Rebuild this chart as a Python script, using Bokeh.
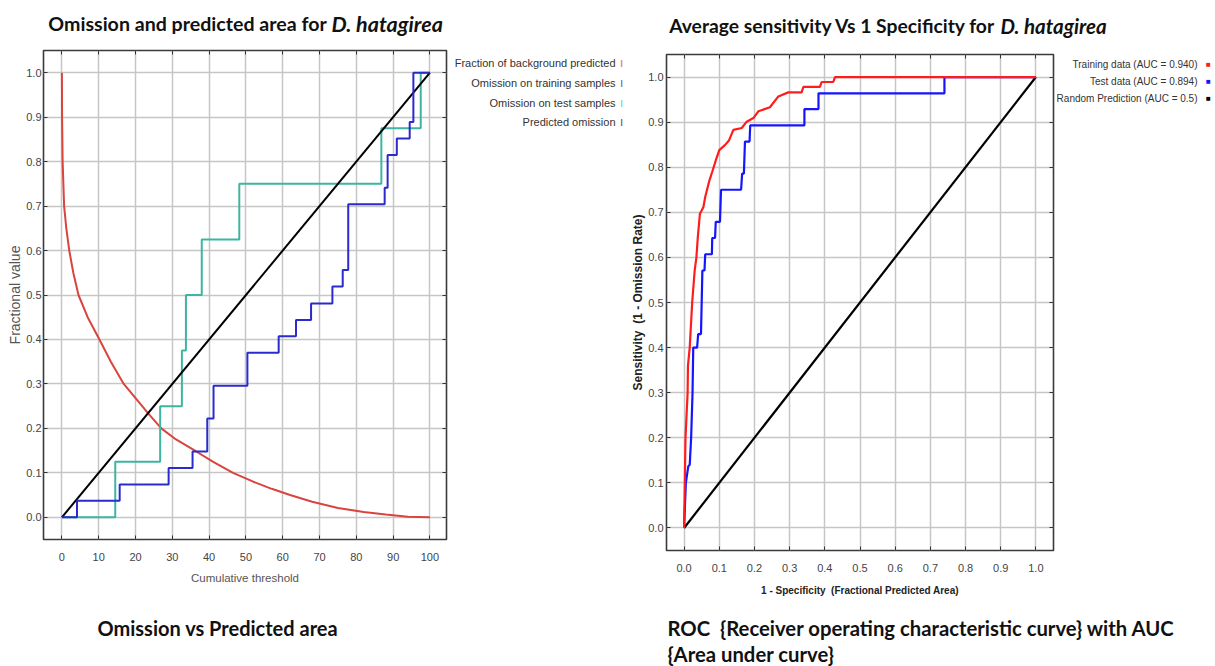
from bokeh.plotting import figure
from bokeh.models import (Label, LinearAxis, SingleIntervalTicker, NumeralTickFormatter,
                          CustomJSTickFormatter, Range1d)
from bokeh.layouts import row, column
from bokeh.embed import file_html
from bokeh.resources import INLINE

# ---------------- data: omission vs predicted area ----------------
bg_x = [0, 0.05, 0.2, 0.6, 1.2, 2.0, 3.1, 4.5, 7.0, 10.2, 13.3, 16.8, 20.8, 23.5,
        27.0, 31.0, 36.5, 41.0, 46.5, 52.0, 57.0, 62.0, 68.0, 75.0, 82.0, 88.0, 94.0, 100.0]
bg_y = [1.0, 0.9, 0.8, 0.7, 0.65, 0.6, 0.55, 0.5, 0.45, 0.4, 0.35, 0.3, 0.26, 0.233,
        0.2, 0.175, 0.148, 0.125, 0.1, 0.08, 0.064, 0.05, 0.035, 0.021, 0.012, 0.006, 0.001, 0.0]

train_om_x = [0, 4.1, 15.7, 29.0, 35.5, 39.5, 41.2, 50.4, 58.9, 63.6, 67.7, 73.5, 76.3, 77.8,
              87.7, 88.5, 91.0, 94.5, 95.5, 100.0]
train_om_y = [0, 0.037, 0.074, 0.111, 0.148, 0.222, 0.296, 0.370, 0.407, 0.444, 0.481, 0.519,
              0.556, 0.704, 0.741, 0.815, 0.852, 0.889, 1.0, 1.0]

test_om_x = [0, 14.5, 26.7, 32.6, 33.7, 38.0, 48.2, 86.8, 97.5, 100.0]
test_om_y = [0, 0.125, 0.25, 0.375, 0.5, 0.625, 0.75, 0.875, 1.0, 1.0]

pred_om_x = [0, 100]
pred_om_y = [0, 1]

left_legend = ["Fraction of background predicted", "Omission on training samples",
               "Omission on test samples", "Predicted omission"]

# ---------------- data: ROC ----------------
roc_train_x = [0, 0.002, 0.004, 0.007, 0.010, 0.011, 0.016, 0.023, 0.030, 0.035, 0.039, 0.045,
               0.055, 0.060, 0.071, 0.080, 0.090, 0.100, 0.116, 0.128, 0.140, 0.164, 0.178,
               0.197, 0.211, 0.244, 0.268, 0.296, 0.334, 0.339, 0.386, 0.391, 0.424, 0.429, 1.0]
roc_train_y = [0, 0.10, 0.20, 0.25, 0.30, 0.36, 0.40, 0.50, 0.57, 0.60, 0.645, 0.697,
               0.712, 0.734, 0.768, 0.790, 0.815, 0.838, 0.849, 0.860, 0.883, 0.887, 0.901,
               0.909, 0.924, 0.933, 0.957, 0.966, 0.966, 0.978, 0.978, 0.989, 0.989, 1.0, 1.0]

roc_test_x = [0, 0.005, 0.012, 0.016, 0.020, 0.022, 0.024, 0.026, 0.037, 0.040, 0.048, 0.050,
              0.052, 0.058, 0.060, 0.079, 0.080, 0.088, 0.090, 0.102, 0.105, 0.162, 0.165,
              0.170, 0.173, 0.186, 0.188, 0.342, 0.342, 0.382, 0.382, 0.740, 0.740, 1.0]
roc_test_y = [0, 0.10, 0.137, 0.140, 0.20, 0.25, 0.30, 0.40, 0.40, 0.43, 0.43, 0.50,
              0.571, 0.571, 0.607, 0.607, 0.643, 0.643, 0.679, 0.679, 0.750, 0.750, 0.786,
              0.786, 0.857, 0.857, 0.893, 0.893, 0.929, 0.929, 0.964, 0.964, 1.0, 1.0]

roc_rand_x = [0, 1]
roc_rand_y = [0, 1]

right_legend = ["Training data (AUC = 0.940)", "Test data (AUC = 0.894)",
                "Random Prediction (AUC = 0.5)"]

SANS = "Liberation Sans"
TITLEF = "Lato"
INK = "#111111"
NB = "\u00a0"


def style(p, x_int, y_int, x_fmt, y_fmt):
    p.outline_line_color = "#3a3a3a"
    p.outline_line_width = 1.6
    xa, ya = p.below[0], p.left[0]
    for ax in (xa, ya):
        ax.axis_line_color = None
        ax.major_tick_in = 4
        ax.major_tick_out = 0
        ax.minor_tick_in = 0
        ax.minor_tick_out = 0
        ax.major_tick_line_color = "#333333"
        ax.major_label_text_font = SANS
        ax.major_label_text_font_size = "11px"
        ax.major_label_text_color = "#444444"
        ax.axis_label_text_font = SANS
    xa.ticker = SingleIntervalTicker(interval=x_int)
    ya.ticker = SingleIntervalTicker(interval=y_int)
    if x_fmt:
        xa.formatter = NumeralTickFormatter(format=x_fmt)
    ya.formatter = NumeralTickFormatter(format=y_fmt)
    xa.major_label_standoff = 13
    ya.major_label_standoff = 3
    ya.axis_label_standoff = 0
    for loc, interval in (("above", x_int), ("right", y_int)):
        ax = LinearAxis(ticker=SingleIntervalTicker(interval=interval),
                        formatter=CustomJSTickFormatter(code="return ''"),
                        axis_line_color=None, major_tick_in=4, major_tick_out=0,
                        minor_tick_in=0, minor_tick_out=0, major_label_standoff=0,
                        major_label_text_font_size="0px",
                        major_tick_line_color="#333333")
        p.add_layout(ax, loc)
    p.xgrid.ticker = SingleIntervalTicker(interval=x_int)
    p.ygrid.ticker = SingleIntervalTicker(interval=y_int)
    for g in (p.xgrid[0], p.ygrid[0]):
        g.grid_line_color = "#c6c6c6"
        g.grid_line_width = 1.5
    return xa, ya


def text_fig(x0, x1, y0, y1):
    # a bare canvas whose data units are the picture's pixels
    f = figure(width=x1 - x0, height=y1 - y0, x_range=Range1d(x0, x1), y_range=Range1d(y1, y0),
               output_backend="svg", toolbar_location=None, min_border=0, title=None,
               x_axis_location=None, y_axis_location=None, frame_align=False)
    f.grid.visible = False
    f.outline_line_color = None
    f.background_fill_color = None
    f.border_fill_color = None
    return f


def put(f, x, y, text, **kw):
    kw.setdefault("text_baseline", "middle")
    f.add_layout(Label(x=x, y=y, text=text, **kw))


TOP, MID, BOT, END = 0, 42, 600, 666
W_ALL = 1215
P1_R, P2_L, P2_R = 452, 626, 1055

# ---------------- left chart ----------------
p1 = figure(width=P1_R, height=BOT - MID, output_backend="svg", toolbar_location=None, title=None,
            x_range=Range1d(-5, 104.5), y_range=Range1d(-0.05, 1.05), frame_align=False,
            min_border_left=43, min_border_right=6, min_border_top=8, min_border_bottom=61,
            x_axis_label="Cumulative threshold", y_axis_label="Fractional value")
xa1, ya1 = style(p1, 10, 0.1, None, "0.0")
xa1.axis_label_standoff = 8
xa1.axis_label_text_font_size = "11.5px"
ya1.axis_label_text_font_size = "14px"
ya1.major_label_standoff = 2
xa1.axis_label_text_font_style = "normal"
ya1.axis_label_text_font_style = "normal"
xa1.axis_label_text_color = "#555555"
ya1.axis_label_text_color = "#555555"

p1.line(bg_x, bg_y, line_color="#d9443f", line_width=2)
p1.step(test_om_x, test_om_y, mode="after", line_color="#3db5a0", line_width=2)
p1.line(pred_om_x, pred_om_y, line_color="#000000", line_width=2)
p1.step(train_om_x, train_om_y, mode="after", line_color="#2a2acd", line_width=2)

lA = text_fig(P1_R, P2_L, MID, BOT)
lcols = ["#e07050", "#5a5ad0", "#6ccfc0", "#555555"]
for i, (t, c) in enumerate(zip(left_legend, lcols)):
    yy = [62, 82, 102, 121][i]
    put(lA, 615, yy, t, text_align="right", text_font=SANS, text_font_size="11px",
        text_color="#333333")
    put(lA, 621, yy, "|", text_align="center", text_font=SANS, text_font_size="8px",
        text_font_style="bold", text_color=c)

tA = text_fig(0, P2_L, TOP, MID)
put(tA, 331, 23, "Omission and predicted area for ", text_align="right",
    text_font=TITLEF, text_font_style="bold", text_font_size="19.6px", text_color=INK)
put(tA, 331, 23, "D. hatagirea", text_align="left",
    text_font=TITLEF, text_font_style="bold italic", text_font_size="21.5px", text_color=INK)

cA = text_fig(0, P2_L, BOT, END)
put(cA, 97, 627, "Omission vs Predicted area", text_align="left",
    text_font=TITLEF, text_font_style="bold", text_font_size="20px", text_color=INK)

# ---------------- right chart ----------------
p2 = figure(width=P2_R - P2_L, height=BOT - MID, output_backend="svg", toolbar_location=None,
            title=None, x_range=Range1d(-0.05, 1.05), y_range=Range1d(-0.05, 1.05),
            frame_align=False,
            min_border_left=40, min_border_right=2, min_border_top=12, min_border_bottom=50,
            x_axis_label="1 - Specificity " + NB + "(Fractional Predicted Area)",
            y_axis_label="Sensitivity " + NB + "(1 - Omission Rate)")
xa2, ya2 = style(p2, 0.1, 0.1, "0.0", "0.0")
xa2.axis_label_standoff = 10
xa2.axis_label_text_font_size = "10px"
ya2.axis_label_text_font_size = "12px"
xa2.axis_label_text_font_style = "bold"
ya2.axis_label_text_font_style = "bold"
xa2.axis_label_text_color = "#222222"
ya2.axis_label_text_color = "#222222"

p2.line(roc_rand_x, roc_rand_y, line_color="#000000", line_width=2.2)
p2.line(roc_test_x, roc_test_y, line_color="#1414ff", line_width=2.2)
p2.line(roc_train_x, roc_train_y, line_color="#ff1c1c", line_width=2.2)

lB = text_fig(P2_R, W_ALL, MID, BOT)
rcols = ["#ff1c1c", "#1414ff", "#000000"]
for i, (t, c) in enumerate(zip(right_legend, rcols)):
    yy = [64, 81, 98][i]
    put(lB, 1197, yy, t, text_align="right", text_font=SANS, text_font_size="10px",
        text_color="#333333")
    put(lB, 1208, yy, "\u25A0", text_align="center", text_font=SANS,
        text_font_size="8px", text_color=c)

tB = text_fig(P2_L, W_ALL, TOP, MID)
put(tB, 1000, 25, "Average sensitivity Vs 1 Specificity for ", text_align="right",
    text_font=TITLEF, text_font_style="bold", text_font_size="19.3px", text_color=INK)
put(tB, 1000, 25, "D. hatagirea", text_align="left",
    text_font=TITLEF, text_font_style="bold italic", text_font_size="20.5px", text_color=INK)

cB = text_fig(P2_L, W_ALL, BOT, END)
put(cB, 667, 627, "ROC " + NB + "{Receiver operating characteristic curve} with AUC",
    text_align="left", text_font=TITLEF, text_font_style="bold", text_font_size="20.3px",
    text_color=INK)
put(cB, 667, 653, "{Area under curve}", text_align="left", text_font=TITLEF,
    text_font_style="bold", text_font_size="20.3px", text_color=INK)

layout = column(row(tA, tB), row(p1, lA, p2, lB), row(cA, cB))
open("out.html", "w").write(file_html(layout, INLINE))
